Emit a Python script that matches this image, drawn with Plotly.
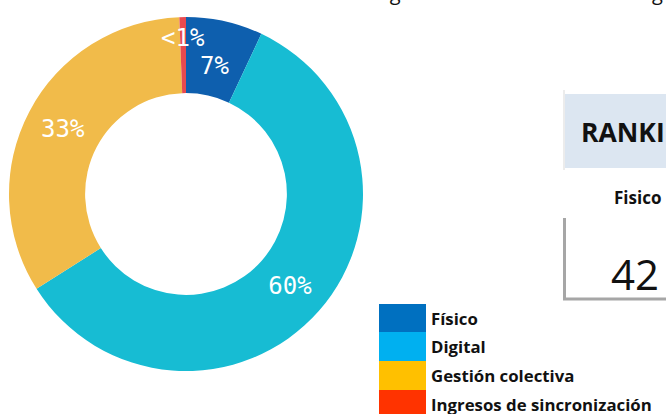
import math
import plotly.graph_objects as go

# Data
categories = ["Físico", "Digital", "Gestión colectiva", "Ingresos de sincronización"]
shares = [7, 59, 33.4, 0.6]
share_labels = ["7%", "60%", "33%", "<1%"]
donut_colors = ["#0e5fae", "#17bcd3", "#f1bb4a", "#e84a4f"]
legend_colors = ["#0070c0", "#00b0f0", "#ffc000", "#ff3300"]
ranking_header = "RANKI"
ranking_col = "Fisico"
ranking_value = "42"

W, H = 666, 414

def px(x):
    return x / W

def py(y):
    return 1 - y / H

# donut geometry (pixels)
DX0, DX1, DY0, DY1 = 9, 363, 17, 371
HOLE = 0.57
SMALL = 10          # slices below this share get a label placed along their bisector
label_radius = {True: 0.74, False: 0.88}   # by "share >= 2"

pie_text = [t if s >= SMALL else "" for t, s in zip(share_labels, shares)]

fig = go.Figure()
fig.add_trace(go.Pie(
    labels=categories,
    values=shares,
    text=pie_text,
    textinfo="text",
    textposition="inside",
    insidetextorientation="horizontal",
    sort=False,
    direction="clockwise",
    rotation=0,
    hole=HOLE,
    marker=dict(colors=donut_colors, line=dict(width=0)),
    textfont=dict(family="DejaVu Sans Mono", size=24, color="white"),
    domain=dict(x=[px(DX0), px(DX1)], y=[py(DY1), py(DY0)]),
    showlegend=False,
))

shapes = []
annotations = []

cx, cy = (DX0 + DX1) / 2, (DY0 + DY1) / 2
R = (DX1 - DX0) / 2
total = sum(shares)
cum = 0
for t, s in zip(share_labels, shares):
    if s < SMALL:
        ang = math.radians((cum + s / 2) / total * 360)
        r = R * label_radius[s >= 2]
        lx, ly = cx + r * math.sin(ang), cy - r * math.cos(ang)
        annotations.append(dict(xref="paper", yref="paper", x=px(lx), y=py(ly),
                                xanchor="center", yanchor="middle", showarrow=False,
                                text=t.replace("<", "&lt;"),
                                font=dict(family="DejaVu Sans Mono", size=24, color="white")))
    cum += s

# Legend (Excel-style)
row_tops = [304, 332, 361, 390]
row_h = 29
for i, (cat, col) in enumerate(zip(categories, legend_colors)):
    y0 = row_tops[i]
    shapes.append(dict(type="rect", xref="paper", yref="paper",
                       x0=px(379), x1=px(426), y0=py(y0 + row_h), y1=py(y0),
                       fillcolor=col, line=dict(width=0), layer="above"))
    annotations.append(dict(xref="paper", yref="paper", x=px(429), y=py(y0 + 14),
                            xanchor="left", yanchor="middle", showarrow=False,
                            text="<b>" + cat + "</b>",
                            font=dict(family="Open Sans", size=16.8, color="#111111")))

# Ranking table fragment
shapes.append(dict(type="rect", xref="paper", yref="paper",
                   x0=px(565), x1=px(670), y0=py(168), y1=py(94),
                   fillcolor="#dce6f1", line=dict(width=0)))
shapes.append(dict(type="line", xref="paper", yref="paper",
                   x0=px(564), x1=px(564), y0=py(170), y1=py(90),
                   line=dict(color="#d9d9d9", width=1)))
shapes.append(dict(type="line", xref="paper", yref="paper",
                   x0=px(564.5), x1=px(564.5), y0=py(300), y1=py(218),
                   line=dict(color="#a6a6a6", width=3)))
shapes.append(dict(type="line", xref="paper", yref="paper",
                   x0=px(563), x1=px(670), y0=py(299), y1=py(299),
                   line=dict(color="#a6a6a6", width=3)))

annotations.append(dict(xref="paper", yref="paper", x=px(579), y=py(132),
                        xanchor="left", yanchor="middle", showarrow=False,
                        text="<b>" + ranking_header + "</b>",
                        font=dict(family="Open Sans", size=26.5, color="#111111")))
annotations.append(dict(xref="paper", yref="paper", x=px(612), y=py(197),
                        xanchor="left", yanchor="middle", showarrow=False,
                        text="<b>" + ranking_col + "</b>",
                        font=dict(family="Open Sans", size=17, color="#111111")))
annotations.append(dict(xref="paper", yref="paper", x=px(609), y=py(273),
                        xanchor="left", yanchor="middle", showarrow=False,
                        text=ranking_value,
                        font=dict(family="Open Sans", size=42, color="#111111")))

# Cropped title line at the very top
annotations.append(dict(xref="paper", yref="paper", x=px(370), y=1,
                        xanchor="left", yanchor="bottom", yshift=-8, showarrow=False,
                        text="Ingresos de la industria de cargo de p",
                        font=dict(family="Open Sans", size=20, color="#111111")))

fig.update_layout(
    width=W, height=H,
    margin=dict(l=0, r=0, t=0, b=0),
    paper_bgcolor="white",
    plot_bgcolor="white",
    shapes=shapes,
    annotations=annotations,
    uniformtext=dict(minsize=24, mode="show"),
)

fig.write_html("out.html", config={"displayModeBar": False},
               post_script="document.body.style.margin='0';")
